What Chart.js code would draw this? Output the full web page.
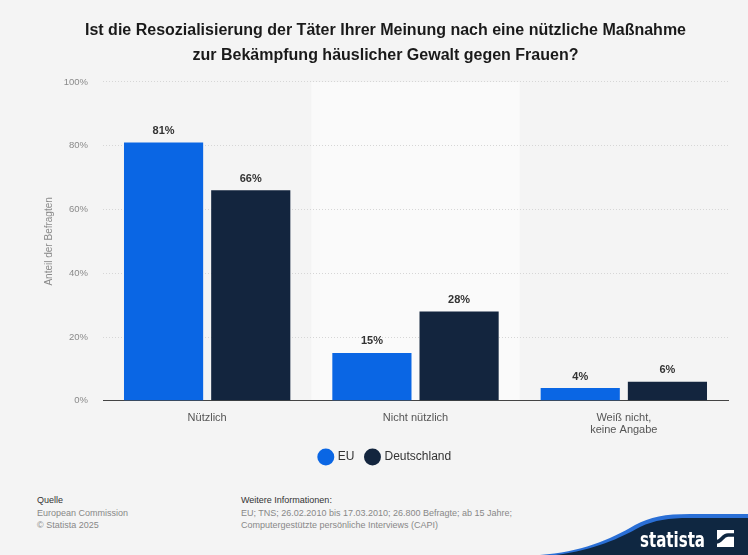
<!DOCTYPE html>
<html><head><meta charset="utf-8">
<script src="https://cdn.jsdelivr.net/npm/chart.js@4/dist/chart.umd.min.js"></script>
<style>
html,body{margin:0;padding:0;background:#f4f4f4;}
body{width:748px;height:555px;position:relative;overflow:hidden;font-family:"Liberation Sans",Arial,sans-serif;}
#wrap{position:absolute;left:0;top:0;width:748px;height:473px;}
.foot{position:absolute;font-size:9px;line-height:12.5px;color:#888;}
.foot span{color:#333;}
#logo{position:absolute;left:0;top:0;}
</style></head><body>
<div id="wrap"><canvas id="c" width="748" height="473"></canvas></div>
<div class="foot" style="left:37px;top:494px;"><span>Quelle</span><br>European Commission<br>© Statista 2025</div>
<div class="foot" style="left:241px;top:494px;"><span>Weitere Informationen:</span><br>EU; TNS; 26.02.2010 bis 17.03.2010; 26.800 Befragte; ab 15 Jahre;<br>Computergestützte persönliche Interviews (CAPI)</div>
<svg id="logo" width="748" height="555" viewBox="0 0 748 555">
<path d="M540 555 C 580 552, 610 540, 635 525 C 650 517, 665 514, 690 514 L748 514 L748 555 Z" fill="#2a6fd6"/>
<path d="M556 555 C 595 550, 620 538, 640 527 C 655 520, 668 518, 690 518 L748 518 L748 555 Z" fill="#0f2741"/>
<text x="640" y="547" fill="#ffffff" font-family="'Liberation Sans Narrow','DejaVu Sans Condensed',Arial" font-weight="bold" font-size="21" textLength="65" lengthAdjust="spacingAndGlyphs">statista</text>
<rect x="717" y="530" width="17" height="17" fill="#ffffff"/>
<path d="M716 542 C 722 542, 722 535, 728 535 L735 535" stroke="#0f2741" stroke-width="3.5" fill="none"/>
</svg>
<script>
const categories = ["Nützlich", "Nicht nützlich", ["Weiß nicht,", "keine Angabe"]];
const euValues = [81, 15, 4];
const deValues = [66, 28, 6];
const yTicks = [0, 20, 40, 60, 80, 100];
const seriesNames = ["EU", "Deutschland"];

const FONT = '"Liberation Sans", Arial, sans-serif';

const bandPlugin = {
  id: 'band',
  beforeDraw(chart) {
    const {ctx, chartArea, scales} = chart;
    const x = scales.x;
    const w = chartArea.width / categories.length;
    const cx = x.getPixelForValue(1);
    ctx.save();
    ctx.fillStyle = '#fafafa';
    ctx.fillRect(cx - w/2, chartArea.top, w, chartArea.bottom - chartArea.top);
    ctx.restore();
  }
};
const labelPlugin = {
  id: 'vlabels',
  afterDatasetsDraw(chart) {
    const {ctx} = chart;
    ctx.save();
    ctx.font = 'bold 11px ' + FONT;
    ctx.fillStyle = '#333';
    ctx.textAlign = 'center';
    ctx.textBaseline = 'bottom';
    chart.data.datasets.forEach((ds, i) => {
      chart.getDatasetMeta(i).data.forEach((el, j) => {
        ctx.fillText(ds.data[j] + '%', el.x, el.y - 6);
      });
    });
    ctx.restore();
  }
};

new Chart(document.getElementById('c'), {
  type: 'bar',
  data: {
    labels: categories,
    datasets: [
      {label: seriesNames[0], data: euValues, backgroundColor: '#0a66e4', borderWidth: 0},
      {label: seriesNames[1], data: deValues, backgroundColor: '#13253e', borderWidth: 0}
    ]
  },
  options: {
    responsive: false,
    animation: false,
    categoryPercentage: 0.837,
    barPercentage: 0.908,
    layout: {padding: {left: 43, right: 20, top: 18, bottom: 0}},
    plugins: {
      title: {
        display: true,
        text: ['Ist die Resozialisierung der Täter Ihrer Meinung nach eine nützliche Maßnahme', 'zur Bekämpfung häuslicher Gewalt gegen Frauen?'],
        color: '#1a1a1a',
        font: {family: FONT, size: 16, weight: 'bold', lineHeight: 1.56},
        padding: {top: 0, bottom: 14}
      },
      legend: {
        position: 'bottom',
        labels: {
          usePointStyle: true, pointStyle: 'circle', boxWidth: 12, boxHeight: 12,
          color: '#333', padding: 12,
          font: {family: FONT, size: 12}
        }
      },
      tooltip: {enabled: false}
    },
    scales: {
      x: {
        grid: {display: false},
        border: {display: true, color: '#444', width: 1},
        ticks: {color: '#555', font: {family: FONT, size: 11, lineHeight: 1.1}, padding: 3}
      },
      y: {
        min: 0, max: 100,
        afterBuildTicks(scale) { scale.ticks = yTicks.map(v => ({value: v})); },
        afterFit(scale) { scale.width = 60; },
        grid: {color: '#d6d6d6', drawTicks: false, lineWidth: 1},
        border: {display: false, dash: [1, 2]},
        ticks: {color: '#8a8a8a', padding: 15, font: {family: FONT, size: 9.5}, callback: v => v + '%'},
        title: {display: true, text: 'Anteil der Befragten', color: '#8a8a8a', font: {family: FONT, size: 10}, padding: {top: 0, bottom: 0}}
      }
    }
  },
  plugins: [bandPlugin, labelPlugin]
});
</script>
</body></html>
